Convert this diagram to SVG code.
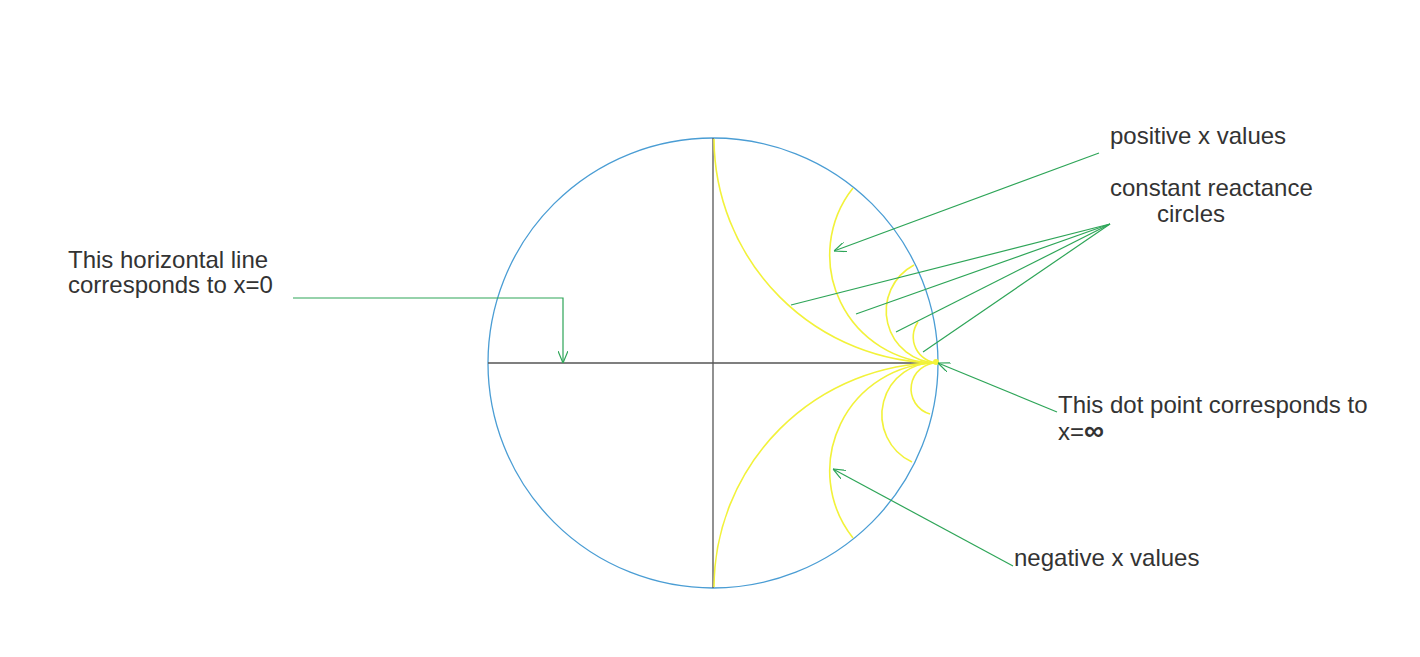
<svg xmlns="http://www.w3.org/2000/svg" width="1420" height="657" viewBox="0 0 1420 657">
<defs>
<style>
.t{font-family:"Liberation Sans",Arial,sans-serif;font-size:24px;fill:#333}
.ax{stroke:#555;stroke-width:1.3;fill:none}
.rc{stroke:#f2f23a;stroke-width:1.6;fill:none}
.g{stroke:#2ea558;stroke-width:1.2;fill:none}
</style>
<marker id="ah" viewBox="0 0 12 10" refX="12" refY="5" markerWidth="12" markerHeight="10" markerUnits="userSpaceOnUse" orient="auto">
<path d="M0,0 L12,5 L0,10" fill="none" stroke="#2ea558" stroke-width="1.2"/>
</marker>
</defs>
<rect width="1420" height="657" fill="#fff"/>
<g id="chart">
<circle cx="713" cy="363" r="225" fill="none" stroke="#4a9dd4" stroke-width="1.3"/>
<line class="ax" x1="488" y1="363" x2="938" y2="363"/>
<line class="ax" x1="713" y1="138" x2="713" y2="588"/>
<path class="rc" d="M714,139 A225,225 0 0 0 938,363"/>
<path class="rc" d="M714,587 A225,225 0 0 1 938,363"/>
<path class="rc" d="M853,188 A108,108 0 0 0 938,363"/>
<path class="rc" d="M853,538 A108,108 0 0 1 938,363"/>
<path class="rc" d="M914,265 A52,52 0 0 0 938,363"/>
<path class="rc" d="M912,462 A52,52 0 0 1 938,363"/>
<path class="rc" d="M918,322 A26,26 0 0 0 938,363"/>
<path class="rc" d="M930,414 A26,26 0 0 1 938,363"/>
<circle cx="936" cy="362" r="3" fill="#f5f53a"/>
</g>
<g id="connectors">
<polyline class="g" points="293,298 563,298 563,363" marker-end="url(#ah)"/>
<line class="g" x1="1099" y1="153" x2="834" y2="251" marker-end="url(#ah)"/>
<line class="g" x1="1110" y1="224" x2="791" y2="305"/>
<line class="g" x1="1110" y1="224" x2="856" y2="314"/>
<line class="g" x1="1110" y1="224" x2="896" y2="332"/>
<line class="g" x1="1110" y1="224" x2="923" y2="352"/>
<line class="g" x1="1057" y1="412" x2="938" y2="363" marker-end="url(#ah)"/>
<line class="g" x1="1013" y1="566" x2="833" y2="469" marker-end="url(#ah)"/>
</g>
<g id="label-x0">
<text class="t" x="68" y="268">This horizontal line</text>
<text class="t" x="68" y="293">corresponds to x=0</text>
</g>
<g id="label-positive">
<text class="t" x="1110" y="144">positive x values</text>
</g>
<g id="label-reactance">
<text class="t" x="1110" y="196">constant reactance</text>
<text class="t" x="1157" y="222">circles</text>
</g>
<g id="label-infinity">
<text class="t" x="1058" y="413">This dot point corresponds to</text>
<text class="t" x="1058" y="440">x=<tspan font-weight="bold" font-size="28px">∞</tspan></text>
</g>
<g id="label-negative">
<text class="t" x="1014" y="566">negative x values</text>
</g>
</svg>
